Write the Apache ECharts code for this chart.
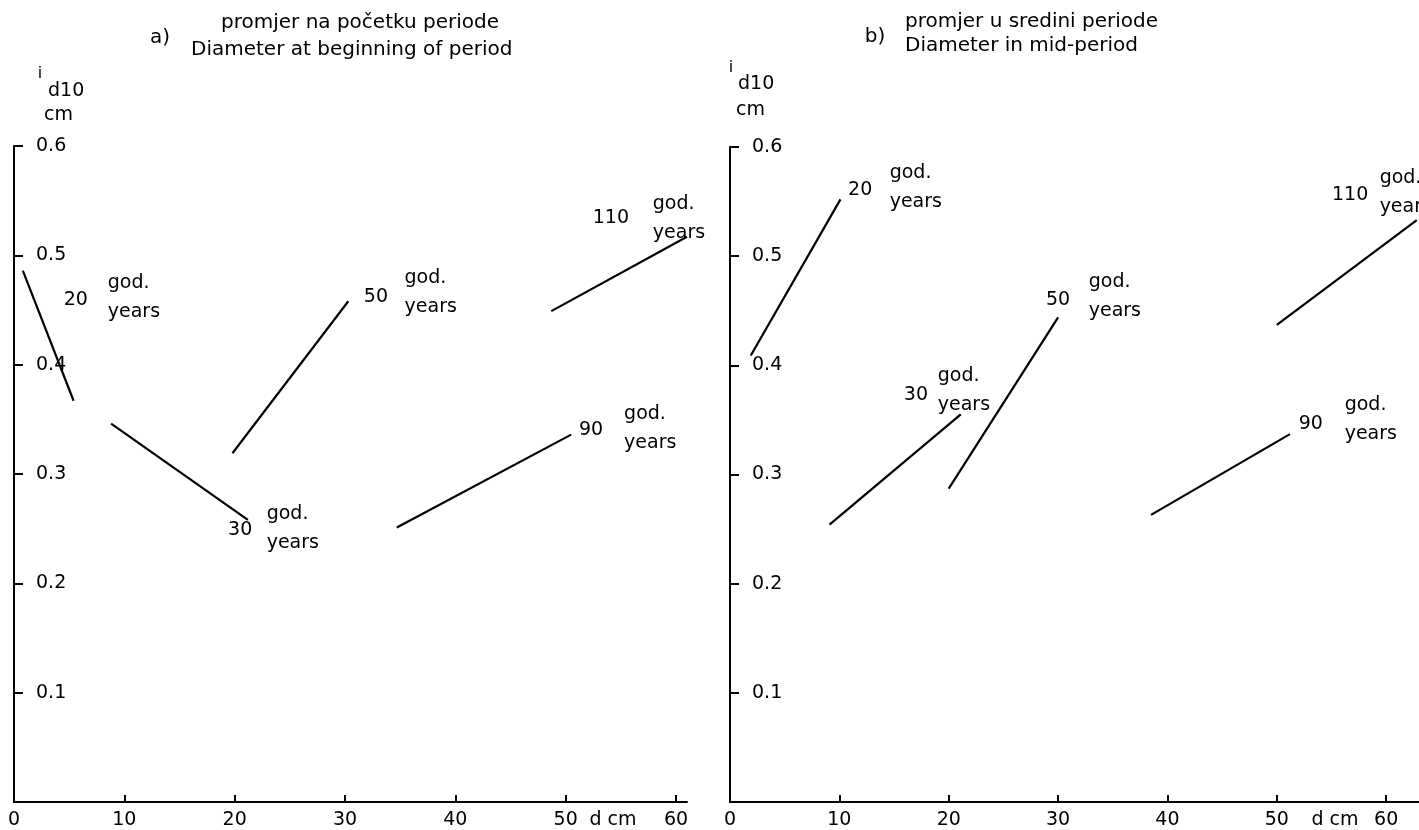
<!DOCTYPE html>
<html><head><meta charset="utf-8">
<script src="https://cdn.jsdelivr.net/npm/echarts@6/dist/echarts.min.js"></script>
<style>html,body{margin:0;padding:0;background:#fff}#c{width:1419px;height:830px}</style>
</head><body><div id="c"></div>
<script>
// ---- data ----
const ageGroups = ['20', '30', '50', '90', '110'];
const xTickValues = [0, 10, 20, 30, 40, 50, 60];
const yTickValues = [0.1, 0.2, 0.3, 0.4, 0.5, 0.6];
// panel a) diameter at beginning of period: segment start / end  [d cm, i_d10 cm]
const aStart = [[0.8, 0.486], [8.8, 0.346], [19.8, 0.319], [34.7, 0.251], [48.7, 0.449]];
const aEnd   = [[5.4, 0.367], [21.2, 0.258], [30.3, 0.458], [50.5, 0.336], [61.0, 0.517]];
const aNumberAt = [[5.6, 0.459], [20.5, 0.249], [32.8, 0.462], [52.3, 0.340], [54.1, 0.534]];
const aUnitAt   = [[8.5, 0.461], [22.9, 0.250], [35.4, 0.466], [55.3, 0.342], [57.9, 0.534]];
// panel b) diameter in mid-period
const bStart = [[1.9, 0.409], [9.1, 0.254], [20.0, 0.287], [38.5, 0.263], [50.0, 0.437]];
const bEnd   = [[10.1, 0.552], [21.1, 0.355], [30.0, 0.444], [51.2, 0.337], [62.8, 0.533]];
const bNumberAt = [[11.9, 0.561], [17.0, 0.373], [30.0, 0.460], [53.1, 0.346], [56.7, 0.556]];
const bUnitAt   = [[14.6, 0.563], [19.0, 0.377], [32.8, 0.463], [56.2, 0.350], [59.4, 0.558]];
const unitText = 'god.\nyears';
const titles = {
  a: ['a)', 'promjer na početku periode', 'Diameter at beginning of period'],
  b: ['b)', 'promjer u sredini periode', 'Diameter in mid-period']
};

// ---- chart ----
const FONT = '"DejaVu Sans", "Liberation Sans", sans-serif';
const INK = '#000';
const FS = 19;
const chart = echarts.init(document.getElementById('c'));

function xAxisDef(gi, max, nameGap) {
  return {
    type: 'value', gridIndex: gi, min: 0, max: max,
    name: 'd cm', nameLocation: 'end', nameGap: nameGap, nameMoveOverlap: false,
    nameTextStyle: { color: INK, fontFamily: FONT, fontSize: FS, align: 'center', verticalAlign: 'top', padding: [9, 0, 0, 0] },
    axisLine: { show: true, onZero: false, lineStyle: { color: INK, width: 2 } },
    axisTick: { show: true, inside: true, length: 7, lineStyle: { color: INK, width: 2 }, customValues: xTickValues },
    axisLabel: { show: true, color: INK, fontFamily: FONT, fontSize: FS, margin: 9, customValues: xTickValues },
    splitLine: { show: false }
  };
}
function yAxisDef(gi) {
  return {
    type: 'value', gridIndex: gi, min: 0, max: 0.6,
    axisLine: { show: true, onZero: false, lineStyle: { color: INK, width: 2 } },
    axisTick: { show: true, inside: true, length: 9, lineStyle: { color: INK, width: 2 }, customValues: yTickValues },
    axisLabel: { show: true, inside: true, margin: 22, color: INK, fontFamily: FONT, fontSize: FS,
      customValues: yTickValues, formatter: v => v.toFixed(1) },
    splitLine: { show: false }
  };
}
function panelSeries(gi, starts, ends, numAt, unitAt) {
  const out = [];
  starts.forEach((s, i) => {
    out.push({
      type: 'line', name: ageGroups[i] + (gi ? 'b' : 'a'), xAxisIndex: gi, yAxisIndex: gi,
      data: [s, ends[i]], showSymbol: false, symbol: 'none', silent: true, clip: false,
      lineStyle: { color: INK, width: 2.2 }
    });
  });
  const lbl = { show: true, position: 'inside', verticalAlign: 'middle', color: INK, opacity: 1,
    fontFamily: FONT, fontSize: FS, textBorderWidth: 0 };
  out.push({
    type: 'scatter', xAxisIndex: gi, yAxisIndex: gi, symbolSize: 0, silent: true, clip: false,
    itemStyle: { opacity: 1 },
    data: numAt.map((p, i) => [p[0], p[1], ageGroups[i]]),
    label: Object.assign({}, lbl, { align: 'center', formatter: p => p.value[2] })
  });
  out.push({
    type: 'scatter', xAxisIndex: gi, yAxisIndex: gi, symbolSize: 0, silent: true, clip: false,
    itemStyle: { opacity: 1 },
    data: unitAt.map(p => [p[0], p[1]]),
    label: Object.assign({}, lbl, { align: 'left', formatter: unitText, lineHeight: 29 })
  });
  return out;
}
function txt(x, y, text, size, align) {
  return { type: 'text', x: x, y: y, silent: true,
    style: { text: text, fill: INK, font: size + 'px ' + FONT, textAlign: align || 'left', textVerticalAlign: 'middle' } };
}

chart.setOption({
  animation: false,
  backgroundColor: '#fff',
  grid: [
    { left: 14, top: 146, width: 673, height: 656 },
    { left: 730, top: 147, width: 689, height: 656 }
  ],
  xAxis: [xAxisDef(0, 61, -74), xAxisDef(1, 63, -84)],
  yAxis: [yAxisDef(0), yAxisDef(1)],
  series: [].concat(
    panelSeries(0, aStart, aEnd, aNumberAt, aUnitAt),
    panelSeries(1, bStart, bEnd, bNumberAt, bUnitAt)
  ),
  graphic: [
    txt(160, 38, titles.a[0], 20, 'center'),
    txt(221, 23, titles.a[1], 20),
    txt(191, 50, titles.a[2], 20),
    txt(875, 37, titles.b[0], 20, 'center'),
    txt(905, 22, titles.b[1], 20),
    txt(905, 46, titles.b[2], 20),
    txt(40, 74, 'i', 16, 'center'),
    txt(48, 91, 'd10', FS),
    txt(44, 115, 'cm', FS),
    txt(731, 68, 'i', 16, 'center'),
    txt(738, 84, 'd10', FS),
    txt(736, 110, 'cm', FS)
  ]
});
</script></body></html>
